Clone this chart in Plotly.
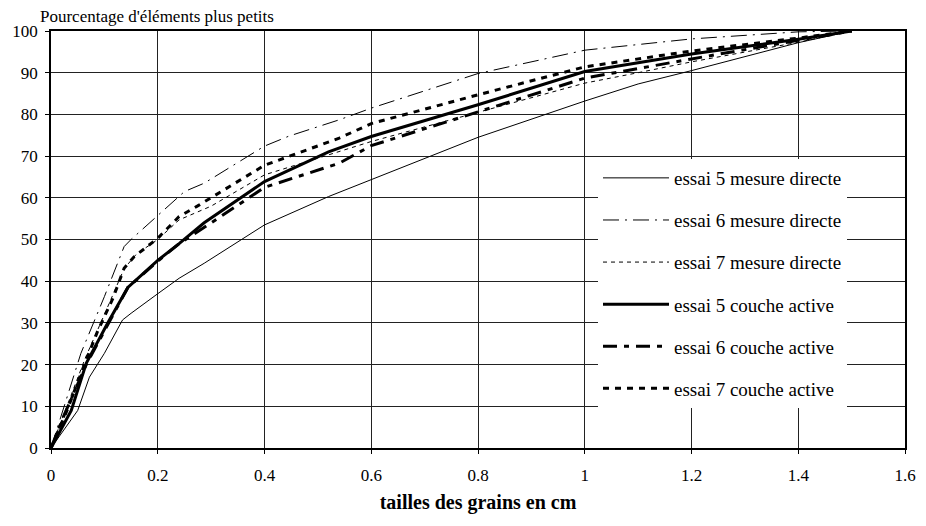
import plotly.graph_objects as go

# ---- data ----
names = [
    "essai 5 mesure directe",
    "essai 6 mesure directe",
    "essai 7 mesure directe",
    "essai 5 couche active",
    "essai 6 couche active",
    "essai 7 couche active",
]

e5_md_x = [0, 0.05, 0.072, 0.10, 0.134, 0.15, 0.20, 0.24, 0.287, 0.40, 0.52, 0.60, 0.80, 1.0, 1.1, 1.2, 1.4, 1.5]
e5_md_y = [0, 9, 17, 22.7, 30.7, 32.3, 37, 40.7, 44.3, 53.5, 60.3, 64.4, 74.5, 83.2, 87.3, 90.5, 97.2, 100]

e6_md_x = [0, 0.028, 0.056, 0.10, 0.137, 0.15, 0.25, 0.287, 0.40, 0.446, 0.54, 0.60, 0.80, 1.0, 1.1, 1.2, 1.4, 1.5]
e6_md_y = [0, 11.5, 22.7, 36.3, 48.3, 50, 61.5, 63.5, 72.4, 74.8, 78.7, 81.5, 89.8, 95.4, 96.8, 98.1, 99.8, 100]

e7_md_x = [0, 0.03, 0.064, 0.10, 0.137, 0.16, 0.20, 0.24, 0.30, 0.40, 0.54, 0.60, 0.80, 1.0, 1.1, 1.2, 1.4, 1.5]
e7_md_y = [0, 10, 21.5, 32, 43, 46.5, 50, 54.7, 58, 65.5, 71, 73.5, 80.5, 87.5, 90, 92.6, 97.3, 100]

e5_ca_x = [0, 0.038, 0.066, 0.106, 0.144, 0.20, 0.24, 0.287, 0.40, 0.52, 0.60, 0.80, 1.0, 1.2, 1.4, 1.5]
e5_ca_y = [0, 9, 20.3, 29.9, 38.5, 45, 49, 54, 63.9, 71, 74.7, 82.3, 90.3, 94.5, 98, 100]

e6_ca_x = [0, 0.025, 0.066, 0.106, 0.144, 0.20, 0.24, 0.30, 0.40, 0.54, 0.60, 0.80, 1.0, 1.2, 1.4, 1.5]
e6_ca_y = [0, 8, 20, 29.5, 38.5, 44.8, 49, 54, 62.5, 68.3, 72.5, 80.6, 88.7, 93.3, 97.8, 100]

e7_ca_x = [0, 0.03, 0.064, 0.087, 0.116, 0.137, 0.156, 0.20, 0.24, 0.274, 0.40, 0.54, 0.60, 0.80, 1.0, 1.2, 1.4, 1.5]
e7_ca_y = [0, 9, 20.5, 27.9, 35.9, 43.1, 45.9, 50.3, 55.5, 58, 67.8, 74.3, 77.8, 84.7, 91.4, 95.2, 98.3, 100]

x_ticks = [0, 0.2, 0.4, 0.6, 0.8, 1.0, 1.2, 1.4, 1.6]
x_tick_text = ["0", "0.2", "0.4", "0.6", "0.8", "1", "1.2", "1.4", "1.6"]
y_ticks = [0, 10, 20, 30, 40, 50, 60, 70, 80, 90, 100]

series = [
    (e5_md_x, e5_md_y, 1, "solid"),
    (e6_md_x, e6_md_y, 1, "16px,6px,2px,6px"),
    (e7_md_x, e7_md_y, 1, "4px,4px"),
    (e5_ca_x, e5_ca_y, 3, "solid"),
    (e6_ca_x, e6_ca_y, 3, "14px,7px,5px,7px"),
    (e7_ca_x, e7_ca_y, 3, "6px,6px"),
]

FONT = "Liberation Serif, Times New Roman, Times, serif"

fig = go.Figure()
for i, (xs, ys, w, dash) in enumerate(series):
    fig.add_trace(go.Scatter(
        x=xs, y=ys, mode="lines", name=names[i], legendgroup=str(i),
        line=dict(color="black", width=w, dash=dash),
    ))

W, H = 909, 506
ML, MT, PW, PH = 43, 23, 854, 417
fig.update_layout(
    width=W, height=H,
    margin=dict(l=ML, r=W - ML - PW, t=MT, b=H - MT - PH, autoexpand=False),
    paper_bgcolor="white", plot_bgcolor="white",
    font=dict(family=FONT, size=17, color="black"),
    title=dict(text="Pourcentage d'éléments plus petits", x=32/W, xref="container",
               xanchor="left", y=1 - 8/H, yref="container", yanchor="middle",
               pad=dict(t=0, b=0, l=0, r=0),
               font=dict(family=FONT, size=17, color="black")),
    showlegend=True,
    legend=dict(x=(590-ML)/PW, y=0.693, xanchor="left", yanchor="top",
                bgcolor="white", borderwidth=0, itemwidth=66, tracegroupgap=14.4,
                font=dict(family=FONT, size=19, color="black")),
    xaxis=dict(range=[0, 1.6], tickvals=x_ticks, ticktext=x_tick_text,
               showgrid=True, gridcolor="#222", gridwidth=1,
               showline=True, linecolor="black", linewidth=1.5, mirror=True,
               ticks="outside", ticklen=4, tickcolor="black", ticklabelstandoff=7,
               zeroline=False,
               title=dict(text="<b>tailles des grains en cm</b>", standoff=14,
                          font=dict(family=FONT, size=20))),
    yaxis=dict(range=[0, 100], tickvals=y_ticks,
               showgrid=True, gridcolor="#222", gridwidth=1,
               showline=True, linecolor="black", linewidth=1.5, mirror=True,
               ticks="outside", ticklen=4, tickcolor="black", ticklabelstandoff=4,
               zeroline=False),
)

fig.write_html("out.html")
